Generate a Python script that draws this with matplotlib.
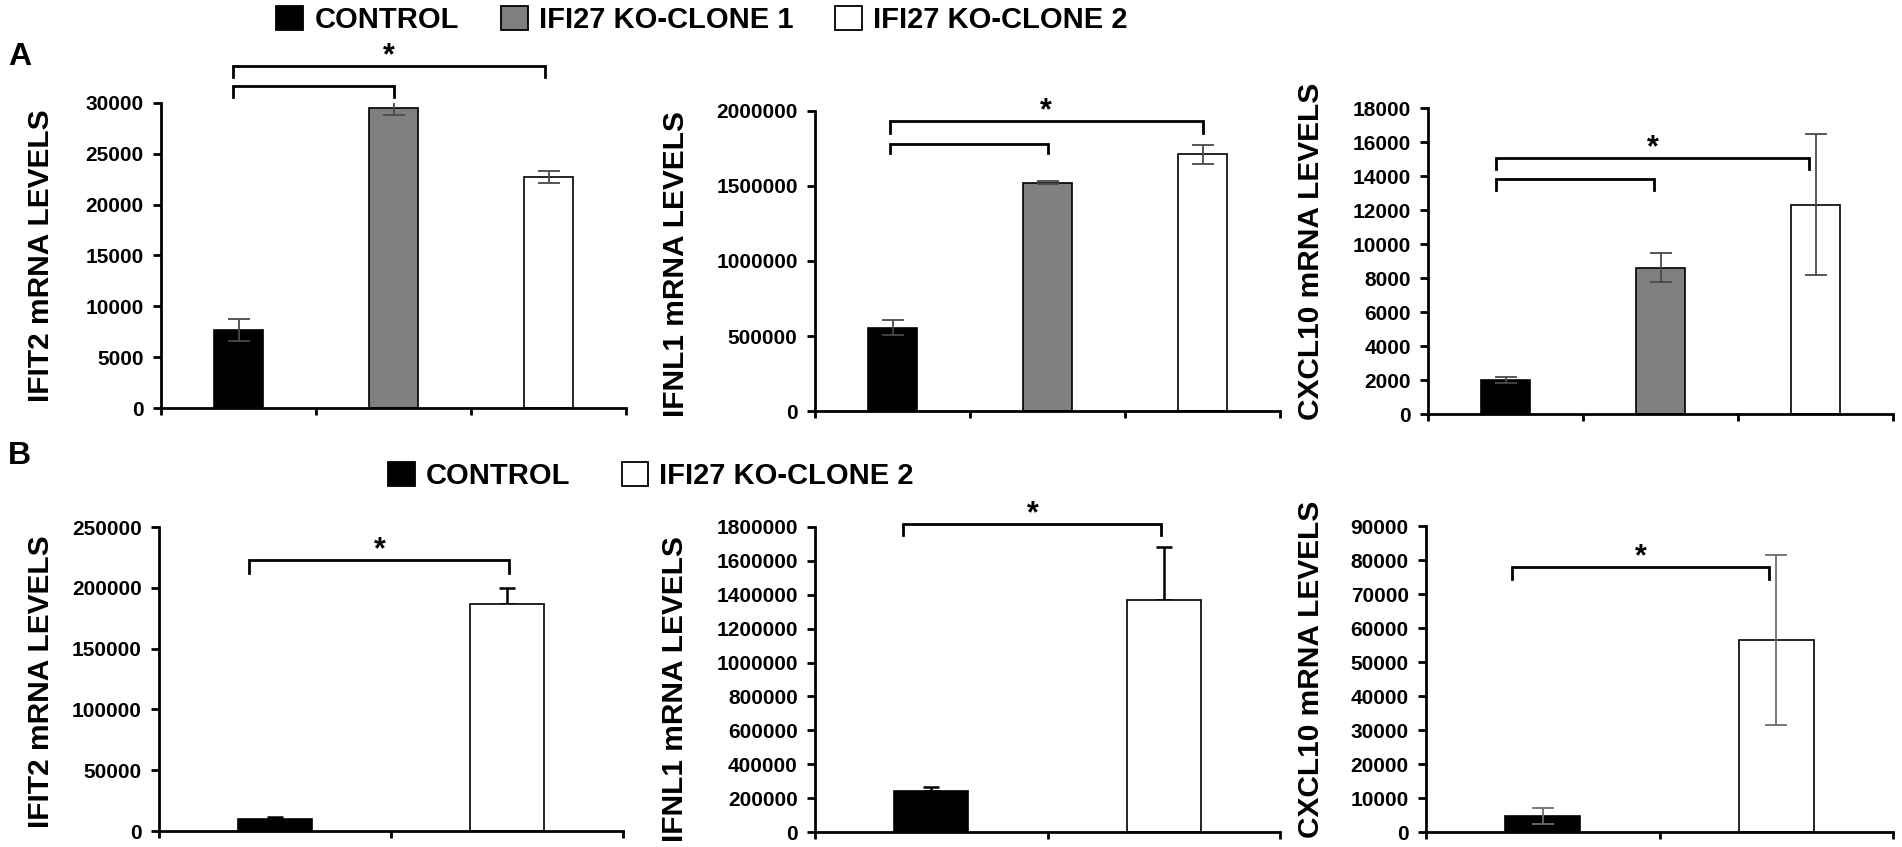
import numpy as np
import matplotlib.pyplot as plt
from matplotlib.patches import Patch

plt.rcParams['font.family'] = ['Liberation Sans', 'DejaVu Sans']
plt.rcParams['font.weight'] = 'bold'

W, H = 1902, 847

# ---- data ----
groups_a = ["CONTROL", "IFI27 KO-CLONE 1", "IFI27 KO-CLONE 2"]
groups_b = ["CONTROL", "IFI27 KO-CLONE 2"]
colors_a = ["black", "#808080", "white"]
colors_b = ["black", "white"]

ifit2_a = [7700, 29500, 22700]
ifit2_a_err = [1100, 650, 580]
ifnl1_a = [555000, 1520000, 1710000]
ifnl1_a_err = [50000, 10000, 62000]
cxcl10_a = [2000, 8600, 12300]
cxcl10_a_err = [200, 850, 4150]

ifit2_b = [10000, 186500]
ifit2_b_err = [1500, 13500]
ifnl1_b = [240000, 1372000]
ifnl1_b_err = [24000, 310000]
cxcl10_b = [4800, 56500]
cxcl10_b_err = [2400, 25000]

ylabels = ["IFIT2 mRNA LEVELS", "IFNL1 mRNA LEVELS", "CXCL10 mRNA LEVELS"]
ymax_a = [30000, 2000000, 18000]
ystep_a = [5000, 500000, 2000]
ymax_b = [250000, 1800000, 90000]
ystep_b = [50000, 200000, 10000]

# significance brackets: (x_left, x_right, y_line, y_end) in data units
brackets_a = [
    [(0.465, 2.48, 33660, 32580), (0.465, 1.50, 31690, 30610)],
    [(0.484, 2.50, 1933000, 1853000), (0.484, 1.50, 1780000, 1720000)],
    [(0.44, 2.46, 15060, 14410), (0.44, 1.46, 13820, 13180)],
]
brackets_b = [
    [(0.39, 1.51, 222900, 212200)],
    [(0.38, 1.49, 1818000, 1753000)],
    [(0.37, 1.47, 77940, 74410)],
]

# axes boxes in pixels: left, right, top, bottom
boxes_a = [(161, 626, 103, 408), (815, 1280, 111, 411), (1428, 1893, 108, 414)]
boxes_b = [(159, 623, 527, 831), (815, 1280, 527, 832), (1426, 1893, 526, 832)]
label_x_a = [-0.228, -0.269, -0.222]
label_y_a = [0.50, 0.49, 0.53]
label_x_b = [-0.224, -0.271, -0.216]
label_y_b = [0.49, 0.47, 0.53]

fig = plt.figure(figsize=(W / 100, H / 100), dpi=100)


def make_ax(box):
    l, r, t, b = box
    return fig.add_axes([l / W, 1 - b / H, (r - l) / W, (b - t) / H])


def style(ax, n, ymax, step, lab, lx, ly):
    ax.set_xlim(0, n)
    ax.set_ylim(0, ymax)
    ax.set_xticks(np.arange(n + 1))
    ax.set_xticklabels([])
    ticks = np.arange(0, ymax + 1, step)
    ax.set_yticks(ticks)
    ax.set_yticklabels([str(int(v)) for v in ticks])
    for s in ["top", "right"]:
        ax.spines[s].set_visible(False)
    for s in ["left", "bottom"]:
        ax.spines[s].set_linewidth(2.0)
    ax.tick_params(axis="y", direction="out", length=5.5, width=2.0, pad=7,
                   labelsize=15)
    ax.tick_params(axis="x", direction="out", length=5, width=2.0)
    for t in ax.get_yticklabels():
        t.set_fontweight("bold")
    ax.set_ylabel(lab, fontsize=21.5, fontweight="bold")
    ax.yaxis.set_label_coords(lx, ly)


def draw_brackets(ax, brs):
    for (x0, x1, y, y_end) in brs:
        ax.plot([x0, x0, x1, x1], [y_end, y, y, y_end], color="black",
                lw=2.0, clip_on=False, solid_joinstyle="miter")
    x0, x1, y, _ = brs[0]
    ax.annotate("*", xy=((x0 + x1) / 2, y), xytext=(0, -4),
                textcoords="offset points", ha="center", va="bottom",
                fontsize=22, fontweight="bold", annotation_clip=False)


data_a = [(ifit2_a, ifit2_a_err), (ifnl1_a, ifnl1_a_err), (cxcl10_a, cxcl10_a_err)]
data_b = [(ifit2_b, ifit2_b_err), (ifnl1_b, ifnl1_b_err), (cxcl10_b, cxcl10_b_err)]

for i in range(3):
    ax = make_ax(boxes_a[i])
    vals, errs = data_a[i]
    x = np.arange(len(vals)) + 0.5
    ax.bar(x, vals, width=0.32, color=colors_a, edgecolor="black", linewidth=1.2,
           zorder=2)
    ax.errorbar(x, vals, yerr=errs, fmt="none", ecolor="#4a4a4a", elinewidth=1.3,
                capsize=8, capthick=1.3, zorder=3)
    style(ax, 3, ymax_a[i], ystep_a[i], ylabels[i], label_x_a[i], label_y_a[i])
    draw_brackets(ax, brackets_a[i])

for i in range(3):
    ax = make_ax(boxes_b[i])
    vals, errs = data_b[i]
    x = np.arange(len(vals)) + 0.5
    ax.bar(x, vals, width=0.32, color=colors_b, edgecolor="black", linewidth=1.2,
           zorder=2)
    if i < 2:
        # only the upper half of the error bar is visible here
        ax.errorbar(x, vals, yerr=[np.zeros(len(errs)), errs], fmt="none",
                    ecolor="black", elinewidth=1.8, capsize=5.5, capthick=1.8,
                    zorder=1)
    else:
        ax.errorbar(x, vals, yerr=errs, fmt="none", ecolor="#6e6e6e",
                    elinewidth=1.3, capsize=8, capthick=1.3, zorder=3)
    style(ax, 2, ymax_b[i], ystep_b[i], ylabels[i], label_x_b[i], label_y_b[i])
    draw_brackets(ax, brackets_b[i])

# legends
leg_font = {"family": ["Liberation Sans"], "weight": "bold", "size": 21}
handles_a = [Patch(facecolor=c, edgecolor="black", linewidth=1.3) for c in colors_a]
fig.legend(handles_a, groups_a, loc="center", bbox_to_anchor=(702 / W, 1 - 20 / H),
           ncol=3, frameon=False, prop=leg_font, handlelength=0.92,
           handleheight=0.92, handletextpad=0.38, columnspacing=1.44, borderpad=0)
handles_b = [Patch(facecolor=c, edgecolor="black", linewidth=1.3) for c in colors_b]
fig.legend(handles_b, groups_b, loc="center", bbox_to_anchor=(651 / W, 1 - 476 / H),
           ncol=2, frameon=False, prop=leg_font, handlelength=0.92,
           handleheight=0.92, handletextpad=0.38, columnspacing=1.75, borderpad=0)

fig.text(8 / W, 1 - 57 / H, "A", fontsize=23, fontweight="bold", va="center")
fig.text(8 / W, 1 - 456 / H, "B", fontsize=23, fontweight="bold", va="center")

fig.savefig("out.png", dpi=100, facecolor="white")
